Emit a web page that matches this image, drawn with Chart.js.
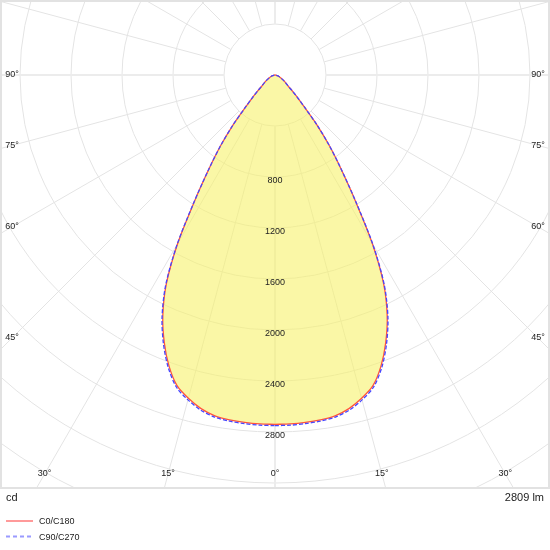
<!DOCTYPE html>
<html>
<head>
<meta charset="utf-8">
<script src="https://cdn.jsdelivr.net/npm/chart.js@4.4.1/dist/chart.umd.min.js"></script>
<style>
  html, body { margin: 0; padding: 0; background: #fff; }
</style>
</head>
<body>
<canvas id="ldc" width="550" height="550"></canvas>
<script>
// gamma angles in degrees, 0 = straight down
let gammaAngles = [0, 2.5, 5, 7.5, 10, 12.5, 15, 17.5, 20, 22.5, 25, 27.5, 30, 32.5, 35, 37.5, 40, 42.5, 45, 47.5, 50, 55, 60, 65, 70, 75, 80, 85, 90];

// luminous intensity (cd) per gamma angle
let c0c180 = [2740, 2739, 2735, 2728, 2714, 2680, 2625, 2555, 2430, 2270, 2082, 1845, 1528, 1178, 910, 705, 515, 343, 250, 180, 135, 95, 65, 45, 30, 20, 12, 5, 0];
let c90c270 = [2750, 2749, 2745, 2738, 2724, 2692, 2638, 2568, 2445, 2285, 2096, 1856, 1536, 1183, 912, 706, 515, 343, 250, 180, 135, 95, 65, 45, 30, 20, 12, 5, 0];

// grid rings and labels
let ringValues = [400, 800, 1200, 1600, 2000, 2400, 2800, 3200, 3600, 4000];
let ringLabels = [800, 1200, 1600, 2000, 2400, 2800];
let angleLabels = [0, 15, 30, 45, 60, 75, 90];
let spokeStep = 15;

let seriesNames = ["C0/C180", "C90/C270"];
let unitLabel = "cd";
let fluxLabel = "2809 lm";

let labelFont = '9px "Liberation Sans", Arial, sans-serif';

// polar -> x/y, side 1 = right half, -1 = left half
function toPoints(values, side) {
    return gammaAngles.map((g, i) => {
        let rad = g * Math.PI / 180;
        return { x: side * values[i] * Math.sin(rad), y: -values[i] * Math.cos(rad) };
    });
}

function closedCurve(values) {
    return toPoints(values, 1).concat(toPoints(values, -1).reverse());
}

// rings and spokes under the curves
const polarGrid = {
    id: 'polarGrid',
    beforeDatasetsDraw(chart) {
        let { ctx, chartArea, scales: { x, y } } = chart;
        let cx = x.getPixelForValue(0);
        let cy = y.getPixelForValue(0);
        let unit = x.getPixelForValue(1) - cx;
        ctx.save();
        ctx.beginPath();
        ctx.rect(chartArea.left, chartArea.top, chartArea.width, chartArea.height);
        ctx.clip();
        ctx.strokeStyle = '#e4e4e4';
        ctx.lineWidth = 1;
        ringValues.forEach(r => {
            ctx.beginPath();
            ctx.arc(cx, cy, r * unit, 0, Math.PI * 2);
            ctx.stroke();
        });
        let r0 = ringValues[0] * unit;
        let r1 = ringValues[ringValues.length - 1] * 1.5 * unit;
        for (let a = 0; a < 360; a += spokeStep) {
            let rad = a * Math.PI / 180;
            let dx = Math.sin(rad), dy = Math.cos(rad);
            let main = a % 90 === 0;
            ctx.lineWidth = main ? 2 : 1;
            ctx.strokeStyle = main ? '#ececec' : '#e4e4e4';
            ctx.beginPath();
            ctx.moveTo(cx + dx * r0, cy + dy * r0);
            ctx.lineTo(cx + dx * r1, cy + dy * r1);
            ctx.stroke();
        }
        ctx.restore();
    },
    afterDatasetsDraw(chart) {
        let { ctx, scales: { x, y } } = chart;
        let cx = x.getPixelForValue(0);
        ctx.save();
        ctx.font = labelFont;
        ctx.fillStyle = '#222';
        ctx.textAlign = 'center';
        ctx.textBaseline = 'middle';
        ringLabels.forEach(v => ctx.fillText(String(v), cx, y.getPixelForValue(-v) + 4));
        ctx.restore();
    },
    afterDraw(chart) {
        let { ctx, chartArea, scales: { x, y } } = chart;
        let cx = x.getPixelForValue(0);
        let cy = y.getPixelForValue(0);
        ctx.save();
        // frame
        ctx.strokeStyle = '#e2e2e2';
        ctx.lineWidth = 2;
        ctx.strokeRect(chartArea.left + 1, chartArea.top + 1, chartArea.width - 2, chartArea.height - 1);

        // angle labels where spokes meet an inset box
        ctx.font = labelFont;
        ctx.fillStyle = '#222';
        ctx.textAlign = 'center';
        ctx.textBaseline = 'middle';
        let side = cx - chartArea.left - 12;
        let bottom = chartArea.bottom - 14 - cy;
        angleLabels.forEach(g => {
            let rad = g * Math.PI / 180;
            let s = Math.sin(rad), c = Math.cos(rad);
            let t = Math.min(s > 1e-6 ? side / s : Infinity, c > 1e-6 ? bottom / c : Infinity);
            let txt = g + '°';
            ctx.fillText(txt, cx - t * s, cy + t * c);
            if (g !== 0) ctx.fillText(txt, cx + t * s, cy + t * c);
        });

        // unit and flux
        ctx.font = '11px "Liberation Sans", Arial, sans-serif';
        ctx.textAlign = 'left';
        ctx.fillText(unitLabel, chartArea.left + 6, chartArea.bottom + 10);
        ctx.textAlign = 'right';
        ctx.fillText(fluxLabel, chartArea.right - 6, chartArea.bottom + 10);

        // legend
        ctx.font = labelFont;
        ctx.textAlign = 'left';
        let legendColors = ['#ff9a9a', '#9a9aff'];
        seriesNames.forEach((name, i) => {
            let ly = chartArea.bottom + 33 + i * 15.5;
            ctx.strokeStyle = legendColors[i];
            ctx.lineWidth = 2;
            ctx.setLineDash(i === 1 ? [4, 3] : []);
            ctx.beginPath();
            ctx.moveTo(6, ly);
            ctx.lineTo(33, ly);
            ctx.stroke();
            ctx.fillText(name, 39, ly + 1);
        });
        ctx.restore();
    }
};

const pxPerCd = 51 / 400;
let ctx = document.getElementById('ldc').getContext('2d');
let ldcChart = new Chart(ctx, {
    type: 'scatter',
    data: {
        datasets: [{
            label: seriesNames[0],
            data: closedCurve(c0c180),
            showLine: true,
            tension: 0.3,
            borderColor: 'rgb(255, 85, 60)',
            borderWidth: 1.3,
            backgroundColor: 'rgba(247, 242, 107, 0.6)',
            fill: 'shape',
            pointRadius: 0,
            order: 2
        }, {
            label: seriesNames[1],
            data: closedCurve(c90c270),
            showLine: true,
            tension: 0.3,
            borderColor: 'rgb(70, 70, 255)',
            borderWidth: 1.3,
            borderDash: [4, 2],
            fill: false,
            pointRadius: 0,
            order: 1
        }]
    },
    options: {
        responsive: false,
        animation: false,
        layout: { padding: { left: 0, right: 0, top: 0, bottom: 62 } },
        plugins: {
            legend: { display: false },
            tooltip: { enabled: false }
        },
        scales: {
            x: { type: 'linear', display: false, min: -275 / pxPerCd, max: 275 / pxPerCd },
            y: { type: 'linear', display: false, min: -413 / pxPerCd, max: 75 / pxPerCd }
        }
    },
    plugins: [polarGrid]
});
</script>
</body>
</html>
